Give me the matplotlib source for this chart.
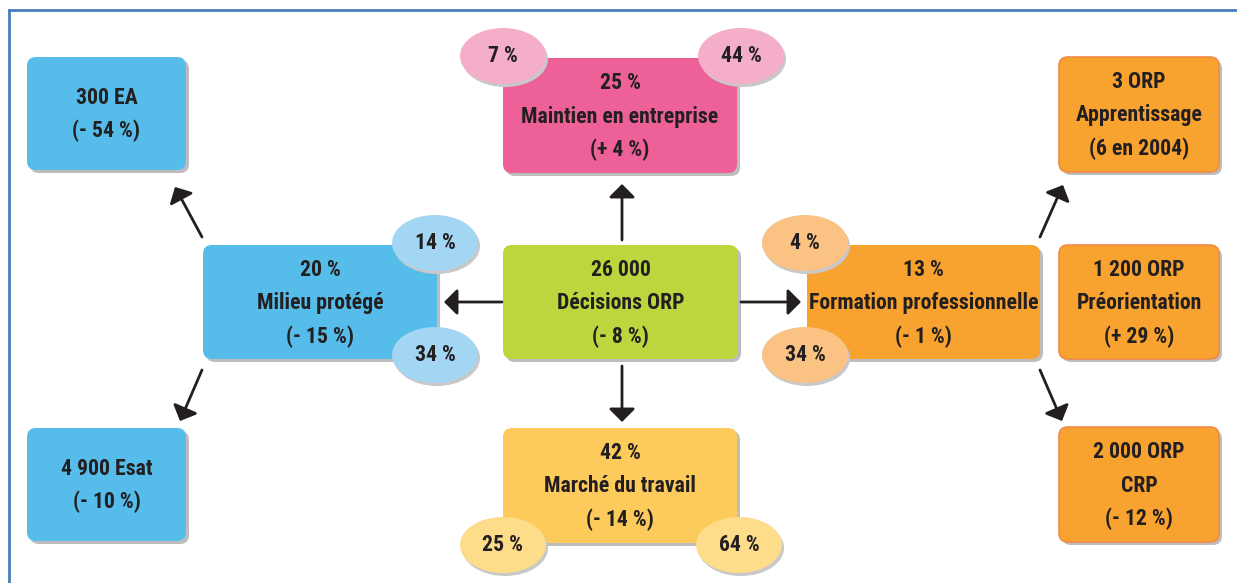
import matplotlib.pyplot as plt
from matplotlib import font_manager as fm
from matplotlib.patches import FancyBboxPatch, Ellipse

# box texts (one list of lines per box)
box_lines = [
    ["300 EA", "(- 54 %)"],
    ["25 %", "Maintien en entreprise", "(+ 4 %)"],
    ["3 ORP", "Apprentissage", "(6 en 2004)"],
    ["20 %", "Milieu protégé", "(- 15 %)"],
    ["26 000", "Décisions ORP", "(- 8 %)"],
    ["13 %", "Formation professionnelle", "(- 1 %)"],
    ["1 200 ORP", "Préorientation", "(+ 29 %)"],
    ["4 900 Esat", "(- 10 %)"],
    ["42 %", "Marché du travail", "(- 14 %)"],
    ["2 000 ORP", "CRP", "(- 12 %)"],
]
# box rectangles in pixels: x0, y0, x1, y1
box_rects = [
    (27, 57, 186, 170),
    (503, 58, 737, 173),
    (1059, 57, 1219, 172),
    (203, 245, 437, 359),
    (503, 245, 738, 359),
    (807, 245, 1040, 359),
    (1059, 245, 1219, 359),
    (27, 428, 186, 541),
    (503, 428, 737, 543),
    (1059, 427, 1219, 542),
]
box_colors = ["#56BDEB", "#EE6198", "#F8A22F", "#56BDEB", "#BED63E",
              "#F8A22F", "#F8A22F", "#56BDEB", "#FDCA5C", "#F8A22F"]
box_edges = [None, None, "#F08A45", None, None,
             None, "#F08A45", None, None, "#F08A45"]

# shares shown in ellipses
bubble_labels = ["7 %", "44 %", "14 %", "34 %", "4 %", "34 %", "25 %", "64 %"]
bubble_xy = [(503, 56), (741, 56), (435, 243), (435, 355),
             (805, 243), (805, 355), (503, 545), (739, 545)]
bubble_colors = ["#F5AECA", "#F5AECA", "#A3D6F3", "#A3D6F3",
                 "#FBC383", "#FBC383", "#FDDC8A", "#FDDC8A"]

# arrows: tail -> tip
arrows = [
    ((622, 240), (622, 184)),
    ((502, 302), (444, 302)),
    ((741, 302), (801, 302)),
    ((622, 366), (622, 422)),
    ((202, 237), (175, 187)),
    ((202, 370), (180, 421)),
    ((1040, 237), (1063, 185)),
    ((1040, 370), (1062, 421)),
]

TXT = "#231F20"

# narrowest available bold sans
installed = {f.name for f in fm.fontManager.ttflist}
FONT = "DejaVu Sans"
for cand in ["Liberation Sans Narrow", "Roboto Condensed", "DejaVu Sans Condensed",
             "Lato", "Roboto", "Liberation Sans"]:
    if cand in installed:
        FONT = cand
        break

fig = plt.figure(figsize=(12.37, 5.83), dpi=100)
ax = fig.add_axes([0, 0, 1, 1])
ax.set_xlim(0, 1237)
ax.set_ylim(583, 0)
ax.axis("off")

# size the font so the longest line fits its box like in the original
renderer = fig.canvas.get_renderer()
probe = ax.text(0, 0, "Formation professionnelle", fontsize=16,
                fontweight="bold", family=FONT)
w = probe.get_window_extent(renderer).width
probe.remove()
FS = min(17.5, 16 * 229 / w)

# frame (top and left only)
ax.plot([9, 1237], [10, 10], color="#4A7EBB", lw=2)
ax.plot([9, 9], [10, 583], color="#4A7EBB", lw=2)

for (x0, y0, x1, y1), lines, c, ec in zip(box_rects, box_lines, box_colors, box_edges):
    shadow = FancyBboxPatch((x0 + 3, y0 + 3), x1 - x0, y1 - y0,
                            boxstyle="round,pad=0,rounding_size=9",
                            fc="#BDBDBD", ec="none", zorder=1)
    ax.add_patch(shadow)
    box = FancyBboxPatch((x0, y0), x1 - x0, y1 - y0,
                         boxstyle="round,pad=0,rounding_size=9",
                         fc=c, ec=ec if ec else "none", lw=1.2, zorder=2)
    ax.add_patch(box)
    cx = (x0 + x1) / 2
    cy = (y0 + y1) / 2
    n = len(lines)
    for i, s in enumerate(lines):
        ax.text(cx, cy + 1 + (i - (n - 1) / 2) * 33.5, s, ha="center", va="center",
                fontsize=FS, fontweight="bold", family=FONT, color=TXT, zorder=5)

for s, (x, y), c in zip(bubble_labels, bubble_xy, bubble_colors):
    ax.add_patch(Ellipse((x + 2, y + 3), 86, 56, fc="#C8C8C8", ec="none", zorder=3))
    ax.add_patch(Ellipse((x, y), 86, 56, fc=c, ec="none", zorder=4))
    ax.text(x, y, s, ha="center", va="center", fontsize=FS, fontweight="bold",
            family=FONT, color=TXT, zorder=5)

for tail, tip in arrows:
    ax.annotate("", xy=tip, xytext=tail,
                arrowprops=dict(arrowstyle="-|>,head_length=0.32,head_width=0.32",
                                lw=2, color=TXT, mutation_scale=25,
                                shrinkA=0, shrinkB=0))

fig.savefig("out.png", dpi=100)
